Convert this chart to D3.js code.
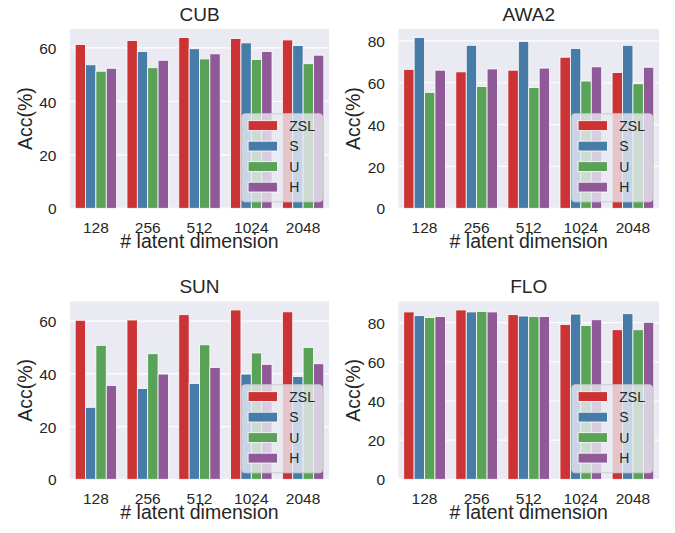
<!DOCTYPE html>
<html>
<head>
<meta charset="utf-8">
<script src="https://cdn.jsdelivr.net/npm/d3@7/dist/d3.min.js"></script>
<style>
  html, body { margin: 0; padding: 0; background: #ffffff; }
  svg { display: block; }
</style>
</head>
<body>
<script>
// ---------------- data ----------------
const categories = ["128", "256", "512", "1024", "2048"];
const seriesNames = ["ZSL", "S", "U", "H"];
const panelTitles = ["CUB", "AWA2", "SUN", "FLO"];
const xLabel = "# latent dimension";
const yLabel = "Acc(%)";

const cubZSL = [61.3, 62.8, 63.9, 63.5, 63.0];
const cubS   = [53.7, 58.7, 59.7, 61.9, 60.9];
const cubU   = [51.3, 52.6, 55.9, 55.7, 54.1];
const cubH   = [52.4, 55.4, 57.8, 58.7, 57.3];

const awaZSL = [66.4, 65.2, 66.0, 72.2, 64.9];
const awaS   = [81.6, 77.9, 79.7, 76.4, 77.9];
const awaU   = [55.4, 58.2, 57.7, 60.8, 59.5];
const awaH   = [66.0, 66.6, 67.0, 67.6, 67.4];

const sunZSL = [60.3, 60.4, 62.4, 64.2, 63.5];
const sunS   = [27.3, 34.4, 36.3, 39.9, 39.0];
const sunU   = [50.8, 47.6, 51.0, 47.9, 50.0];
const sunH   = [35.6, 39.9, 42.4, 43.6, 43.8];

const floZSL = [85.5, 86.5, 84.1, 79.1, 76.4];
const floS   = [83.6, 85.5, 83.4, 84.4, 84.6];
const floU   = [82.6, 85.8, 83.2, 78.6, 76.4];
const floH   = [83.1, 85.5, 83.2, 81.5, 80.2];

const cubTicks = [0, 20, 40, 60];
const awaTicks = [0, 20, 40, 60, 80];
const sunTicks = [0, 20, 40, 60];
const floTicks = [0, 20, 40, 60, 80];

const panelValues = [
  [cubZSL, cubS, cubU, cubH],
  [awaZSL, awaS, awaU, awaH],
  [sunZSL, sunS, sunU, sunH],
  [floZSL, floS, floU, floH]
];
const panelTicks = [cubTicks, awaTicks, sunTicks, floTicks];

// ---------------- style / layout ----------------
const W = 675, H = 533;
const colors = ["#cb3335", "#477ca8", "#59a257", "#905998"];
const bg = "#eaeaf2";
const textColor = "#262626";
const font = "'Liberation Sans', Arial, Helvetica, sans-serif";

const boxes = [
  {l: 70,    r: 329, t: 29,    b: 208.3},
  {l: 398.5, r: 659, t: 29,    b: 208.3},
  {l: 70,    r: 329, t: 301.5, b: 479.3},
  {l: 398.5, r: 659, t: 301.5, b: 479.3}
];

const svg = d3.select("body").append("svg")
  .attr("width", W).attr("height", H)
  .attr("font-family", font);

panelTitles.forEach((title, pi) => {
  const box = boxes[pi];
  const vals = panelValues[pi];
  const ticks = panelTicks[pi];
  const maxV = d3.max(vals.flat());

  const x0 = d3.scaleBand().domain(categories).range([box.l, box.r]).padding(0);
  const bw = x0.bandwidth();
  const x1 = d3.scaleBand().domain(seriesNames).range([0.1 * bw, 0.9 * bw]).padding(0);
  const y = d3.scaleLinear().domain([0, maxV * 1.05]).range([box.b, box.t]);

  const g = svg.append("g");

  // background
  g.append("rect")
    .attr("x", box.l).attr("y", box.t)
    .attr("width", box.r - box.l).attr("height", box.b - box.t)
    .attr("fill", bg);

  // horizontal grid
  g.append("g").selectAll("line").data(ticks).join("line")
    .attr("x1", box.l).attr("x2", box.r)
    .attr("y1", d => y(d)).attr("y2", d => y(d))
    .attr("stroke", "#ffffff").attr("stroke-width", 1.2);

  // bars
  seriesNames.forEach((s, si) => {
    g.append("g").selectAll("rect").data(categories).join("rect")
      .attr("x", c => x0(c) + x1(s))
      .attr("width", x1.bandwidth())
      .attr("y", (c, ci) => y(vals[si][ci]))
      .attr("height", (c, ci) => y(0) - y(vals[si][ci]))
      .attr("fill", colors[si])
      .attr("stroke", "#ffffff").attr("stroke-width", 0.8);
  });

  // y axis (ticks only labels)
  const yAxis = d3.axisLeft(y).tickValues(ticks).tickSize(0).tickPadding(13.5).tickFormat(d3.format("d"));
  const ya = g.append("g").attr("transform", `translate(${box.l},0)`).call(yAxis);
  ya.select(".domain").remove();
  ya.selectAll("text").attr("font-size", 15.5).attr("fill", textColor)
    .attr("font-family", font).attr("dy", "0.36em");

  // x axis
  const xAxis = d3.axisBottom(x0).tickSize(0).tickPadding(0);
  const xa = g.append("g").attr("transform", `translate(0,${box.b})`).call(xAxis);
  xa.select(".domain").remove();
  xa.selectAll("text").attr("font-size", 15.5).attr("fill", textColor)
    .attr("font-family", font).attr("dy", null).attr("y", 25);

  // title
  g.append("text")
    .attr("x", (box.l + box.r) / 2).attr("y", box.t - 8.5)
    .attr("text-anchor", "middle")
    .attr("font-size", 19).attr("fill", textColor)
    .text(title);

  // x label
  g.append("text")
    .attr("x", (box.l + box.r) / 2).attr("y", box.b + 40)
    .attr("text-anchor", "middle")
    .attr("font-size", 19.5).attr("fill", textColor)
    .text(xLabel);

  // y label
  g.append("text")
    .attr("transform", `translate(${box.l - 38.5},${(box.t + box.b) / 2}) rotate(-90)`)
    .attr("text-anchor", "middle")
    .attr("font-size", 19.5).attr("fill", textColor)
    .text(yLabel);

  // legend
  const lw = 80.7, lh = 88;
  const lx = box.r - 6.5 - lw, ly = box.b - 6.5 - lh;
  const lg = g.append("g").attr("transform", `translate(${lx},${ly})`);
  lg.append("rect")
    .attr("x", 0).attr("y", 0).attr("width", lw).attr("height", lh)
    .attr("rx", 3).attr("ry", 3)
    .attr("fill", bg).attr("fill-opacity", 0.8)
    .attr("stroke", "#cccccc").attr("stroke-width", 1);
  seriesNames.forEach((s, si) => {
    const cy = 11.8 + si * 20.5;
    lg.append("rect")
      .attr("x", 6.3).attr("y", cy - 4.9)
      .attr("width", 29.4).attr("height", 9.8)
      .attr("fill", colors[si])
      .attr("stroke", "#ffffff").attr("stroke-width", 0.8);
    lg.append("text")
      .attr("x", 47.5).attr("y", cy + 5)
      .attr("font-size", 14).attr("fill", textColor)
      .text(s);
  });
});
</script>
</body>
</html>
